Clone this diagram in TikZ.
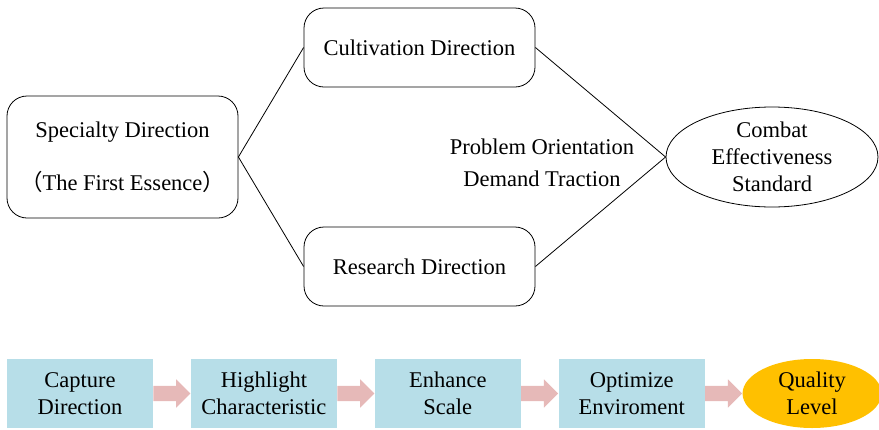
\documentclass[tikz,border=0pt]{standalone}
\usepackage{fontspec}
\setmainfont{LiberationSerif}[Extension=.ttf, UprightFont=*-Regular,
  BoldFont=*-Bold, ItalicFont=*-Italic, BoldItalicFont=*-BoldItalic]
\newfontfamily\cjkfont{Noto Sans CJK SC}
\usetikzlibrary{positioning,shapes.geometric,shapes.arrows}

\definecolor{boxblue}{HTML}{B7DEE8}
\definecolor{arrowpink}{HTML}{E6B9B8}
\definecolor{gold}{HTML}{FFC000}

\begin{document}
\begin{tikzpicture}[
  x=1pt, y=-1pt,
  every node/.style={font=\fontsize{22.5}{27}\selectfont, align=center},
  dirbox/.style={draw, rounded corners=20pt, line width=0.8pt,
    minimum width=231pt, inner sep=0pt},
  goal/.style={draw, ellipse, line width=0.8pt, minimum width=212pt,
    minimum height=100pt, inner sep=0pt},
  stepbox/.style={fill=boxblue, minimum width=146pt, minimum height=69pt,
    inner sep=0pt},
  endgoal/.style={fill=gold, ellipse, minimum width=139pt,
    minimum height=69pt, inner sep=0pt},
  flow/.style={single arrow, fill=arrowpink, minimum height=37pt,
    minimum width=28pt, single arrow head extend=6.5pt,
    inner xsep=0pt, inner ysep=7.5pt},
  link/.style={line width=0.8pt}
]
  \useasboundingbox (0,0) rectangle (879,429);

  % upper part
  \node[dirbox, minimum height=122pt] (spec) at (122.5,157)
    {Specialty Direction\\[26pt]{\cjkfont （}The First Essence{\cjkfont ）}};
  \node[dirbox, minimum height=79pt] (cult) at (419.5,47.5) {Cultivation Direction};
  \node[dirbox, minimum height=79pt] (res) at (419.5,266.5) {Research Direction};
  \node[goal] (std) at (772,157) {Combat\\Effectiveness\\Standard};
  \node (orient) at (542,163) {Problem Orientation\\[5pt]Demand Traction};

  \draw[link] (spec.east) -- (cult.west);
  \draw[link] (spec.east) -- (res.west);
  \draw[link] (cult.east) -- (std.west);
  \draw[link] (res.east) -- (std.west);

  % lower part
  \node[stepbox] (cap) at (80,393.5) {Capture\\Direction};
  \node[flow, right=0pt of cap] (f1) {};
  \node[stepbox, right=0pt of f1] (hig) {Highlight\\Characteristic};
  \node[flow, right=0pt of hig] (f2) {};
  \node[stepbox, right=0pt of f2] (enh) {Enhance\\Scale};
  \node[flow, right=0pt of enh] (f3) {};
  \node[stepbox, right=0pt of f3] (opt) {Optimize\\Enviroment};
  \node[flow, right=0pt of opt] (f4) {};
  \node[endgoal, right=0pt of f4] (qual) {Quality\\Level};
\end{tikzpicture}
\end{document}
